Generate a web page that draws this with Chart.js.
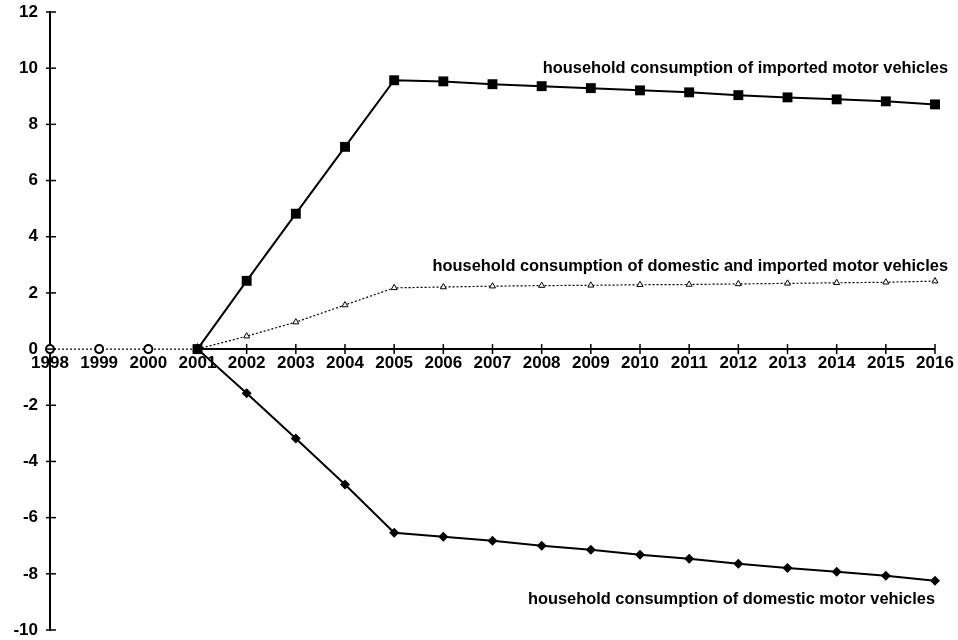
<!DOCTYPE html>
<html>
<head>
<meta charset="utf-8">
<script src="https://cdn.jsdelivr.net/npm/chart.js@4"></script>
<style>
  body { margin: 0; background: #fff; }
</style>
</head>
<body>
<canvas id="chart-vehicles" width="958" height="640"></canvas>
<script>
const years = ['1998', '1999', '2000', '2001', '2002', '2003', '2004', '2005', '2006', '2007',
    '2008', '2009', '2010', '2011', '2012', '2013', '2014', '2015', '2016']

const importedValues = [null, null, null, 0, 2.43, 4.82, 7.2, 9.57, 9.53, 9.43,
    9.36, 9.29, 9.21, 9.14, 9.04, 8.96, 8.89, 8.82, 8.71]
const domesticValues = [null, null, null, 0, -1.57, -3.18, -4.82, -6.54, -6.68, -6.82,
    -7.0, -7.14, -7.32, -7.46, -7.64, -7.79, -7.93, -8.07, -8.25]
const combinedValues = [0, 0, 0, 0, 0.46, 0.96, 1.57, 2.18, 2.21, 2.24,
    2.26, 2.27, 2.29, 2.3, 2.32, 2.34, 2.36, 2.38, 2.42]

const seriesNames = [
    'household consumption of imported motor vehicles',
    'household consumption of domestic and imported motor vehicles',
    'household consumption of domestic motor vehicles'
]
// value where each series name sits
const nameValues = [10.0, 2.95, -8.92]

const yMin = -10
const yMax = 12
const yStep = 2

const labelFont = 'bold 16.4px "Liberation Sans", Arial, sans-serif'

// axis at zero with crossing tick marks, plus the series names
const axisMarks = {
    id: 'axisMarks',
    afterDatasetsDraw(chart) {
        const ctx = chart.ctx
        const x = chart.scales.x
        const y = chart.scales.y
        const y0 = y.getPixelForValue(0)
        const x0 = x.left

        ctx.save()
        ctx.strokeStyle = '#000'
        ctx.lineWidth = 2
        ctx.beginPath()
        ctx.moveTo(x.getPixelForValue(3), y0)
        ctx.lineTo(x.getPixelForValue(years.length - 1), y0)
        ctx.stroke()

        ctx.lineWidth = 1.5
        for (var i = 4; i < years.length; i++) {
            var px = x.getPixelForValue(i)
            ctx.beginPath()
            ctx.moveTo(px, y0 - 5)
            ctx.lineTo(px, y0 + 5)
            ctx.stroke()
        }
        y.ticks.forEach(function (t) {
            var py = y.getPixelForValue(t.value)
            ctx.beginPath()
            ctx.moveTo(x0 - 4, py)
            ctx.lineTo(x0 + 6, py)
            ctx.stroke()
        })

        ctx.fillStyle = '#000'
        ctx.font = labelFont
        ctx.textBaseline = 'middle'
        ctx.textAlign = 'right'
        var lastX = x.getPixelForValue(years.length - 1)
        var shifts = [13, 13, 0]
        for (var j = 0; j < seriesNames.length; j++) {
            ctx.fillText(seriesNames[j], lastX + shifts[j], y.getPixelForValue(nameValues[j]))
        }
        ctx.restore()
    }
}

var ctx = document.getElementById('chart-vehicles')
var data = {
    labels: years,
    datasets: [{
        label: seriesNames[0],
        data: importedValues,
        borderColor: '#000',
        backgroundColor: '#000',
        borderWidth: 2,
        pointStyle: 'rect',
        pointRadius: 7,
        pointBorderWidth: 0,
        lineTension: 0,
        fill: false,
    }, {
        label: seriesNames[2],
        data: domesticValues,
        borderColor: '#000',
        backgroundColor: '#000',
        borderWidth: 2,
        pointStyle: 'rectRot',
        pointRadius: 5,
        pointBorderWidth: 0,
        lineTension: 0,
        fill: false,
    }, {
        label: seriesNames[1],
        data: combinedValues,
        borderColor: '#000',
        backgroundColor: '#fff',
        borderWidth: 1.2,
        borderDash: [2, 2],
        pointStyle: function (c) { return c.dataIndex < 3 ? 'circle' : 'triangle' },
        pointRadius: function (c) { return c.dataIndex < 4 ? 4 : 3.5 },
        pointBorderWidth: function (c) { return c.dataIndex < 4 ? 2 : 1 },
        lineTension: 0,
        fill: false,
    }]
}

var lineChart = new Chart(ctx, {
    type: 'line',
    data: data,
    plugins: [axisMarks],
    options: {
        responsive: false,
        animation: false,
        layout: { padding: { left: 0, top: 12, right: 23, bottom: 10 } },
        plugins: {
            legend: { display: false },
            tooltip: { enabled: false }
        },
        scales: {
            x: {
                position: { y: 0 },
                offset: false,
                grid: { display: false, drawTicks: false },
                border: { display: false },
                ticks: {
                    color: '#000',
                    font: { family: '"Liberation Sans", Arial, sans-serif', size: 17, weight: 'bold' },
                    padding: 4,
                    maxRotation: 0,
                    autoSkip: false
                }
            },
            y: {
                min: yMin,
                max: yMax,
                grid: { display: false, drawTicks: false },
                border: { display: true, color: '#000', width: 2 },
                ticks: {
                    stepSize: yStep,
                    color: '#000',
                    font: { family: '"Liberation Sans", Arial, sans-serif', size: 17, weight: 'bold' },
                    padding: 12
                },
                afterFit: function (scale) {
                    scale.width = 50
                    scale.paddingTop = 0
                    scale.paddingBottom = 0
                }
            }
        }
    }
})
</script>
</body>
</html>
